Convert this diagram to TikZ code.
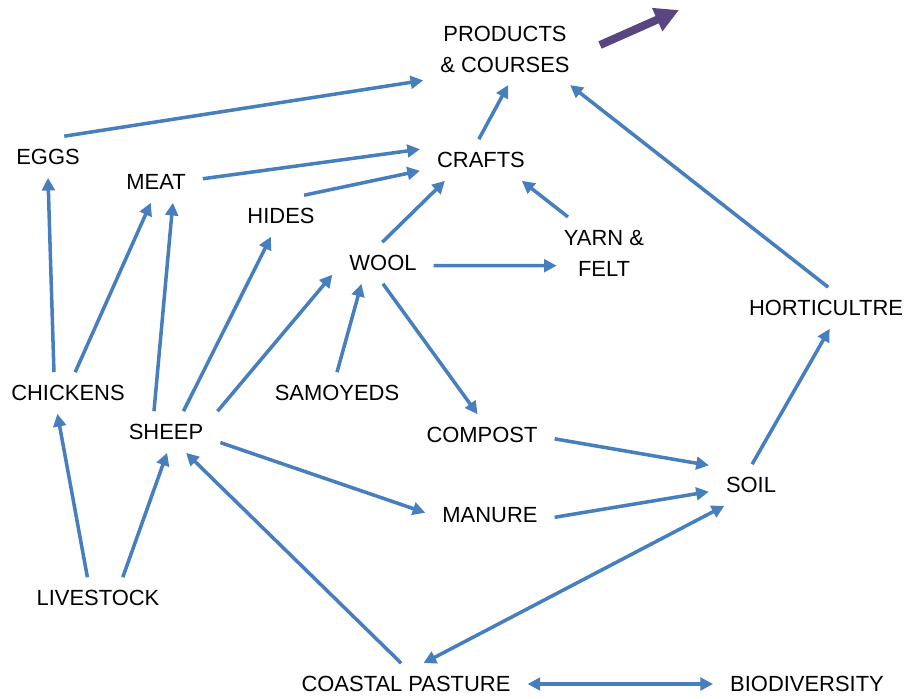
\documentclass[tikz,border=0pt]{standalone}
\usepackage{fontspec}
\setmainfont{Liberation Sans}
\usetikzlibrary{arrows.meta}
\definecolor{linkblue}{RGB}{70,126,190}
\definecolor{trendpurple}{RGB}{89,70,128}

\begin{document}
\begin{tikzpicture}[x=0.025cm, y=-0.025cm,
  lbl/.style={font=\fontsize{15.6}{21.7}\selectfont, inner xsep=12pt, inner ysep=9pt,
    text height=11.2pt, text depth=0pt},
  twoline/.style={lbl, align=center, text height=32.9pt, text depth=0pt},
  link/.style={linkblue, line width=2.5pt, -{Triangle[length=9pt,width=9pt]}},
  both/.style={linkblue, line width=2.5pt, {Triangle[length=9pt,width=9pt]}-{Triangle[length=9pt,width=9pt]}}]
\useasboundingbox (0,0) rectangle (912,698);
% Top: products and what feeds them
\node[twoline] (prod) at (505,49) {PRODUCTS\\\& COURSES};
\node[lbl] (crafts) at (481,160) {CRAFTS};
\node[twoline, inner xsep=5pt] (yarn) at (604,253) {YARN \&\\FELT};
\node[lbl] (horti) at (826,308) {HORTICULTRE};
% Animal products
\node[lbl] (eggs) at (48,157) {EGGS};
\node[lbl] (meat) at (156,182) {MEAT};
\node[lbl] (hides) at (281,216) {HIDES};
\node[lbl] (wool) at (383,263) {WOOL};
% Animals
\node[lbl] (chick) at (68,393) {CHICKENS};
\node[lbl] (sheep) at (166,432) {SHEEP};
\node[lbl] (samoy) at (337,393) {SAMOYEDS};
\node[lbl] (live) at (98,598) {LIVESTOCK};
% Soil cycle
\node[lbl] (compost) at (482,435) {COMPOST};
\node[lbl] (manure) at (490,515) {MANURE};
\node[lbl] (soil) at (751,485) {SOIL};
\node[lbl] (coast) at (406,684) {COASTAL PASTURE};
\node[lbl] (bio) at (807,684) {BIODIVERSITY};
% Connectors
\draw[link] (eggs.52) -- (prod.201);
\draw[link] (meat.4) -- (crafts.170);
\draw[link] (hides.42) -- (crafts.190);
\draw[link] (wool.92) -- (crafts.210);
\draw[link] (yarn.135) -- (crafts.333);
\draw[link] (crafts.96) -- (prod.275);
\draw[link] (horti.84) -- (prod.331);
\draw[link] (wool.-3) -- (yarn.195);
\draw[link] (wool.270) -- (compost.102);
\draw[link] (samoy.90) -- (wool.224);
\draw[link] (sheep.22) -- (wool.193);
\draw[link] (sheep.50) -- (hides.244);
\draw[link] (sheep.120) -- (meat.309);
\draw[link] (chick.71) -- (meat.256);
\draw[link] (chick.124) -- (eggs.270);
\draw[link] (live.117) -- (chick.243);
\draw[link] (live.40) -- (sheep.273);
\draw[link] (coast.103) -- (sheep.314);
\draw[link] (sheep.349) -- (manure.178);
\draw[link] (compost.-3) -- (soil.155);
\draw[link] (manure.-2) -- (soil.189);
\draw[both] (coast.50) -- (soil.218);
\draw[both] (coast.0) -- (bio.180);
\draw[link] (soil.87) -- (horti.280);
% Upward trend arrow
\coordinate (trend0) at (600,45);
\coordinate (trend1) at (679,10);
\draw[trendpurple, line width=5.7pt, -{Triangle[length=17pt,width=17pt]}] (trend0) -- (trend1);
\end{tikzpicture}
\end{document}
